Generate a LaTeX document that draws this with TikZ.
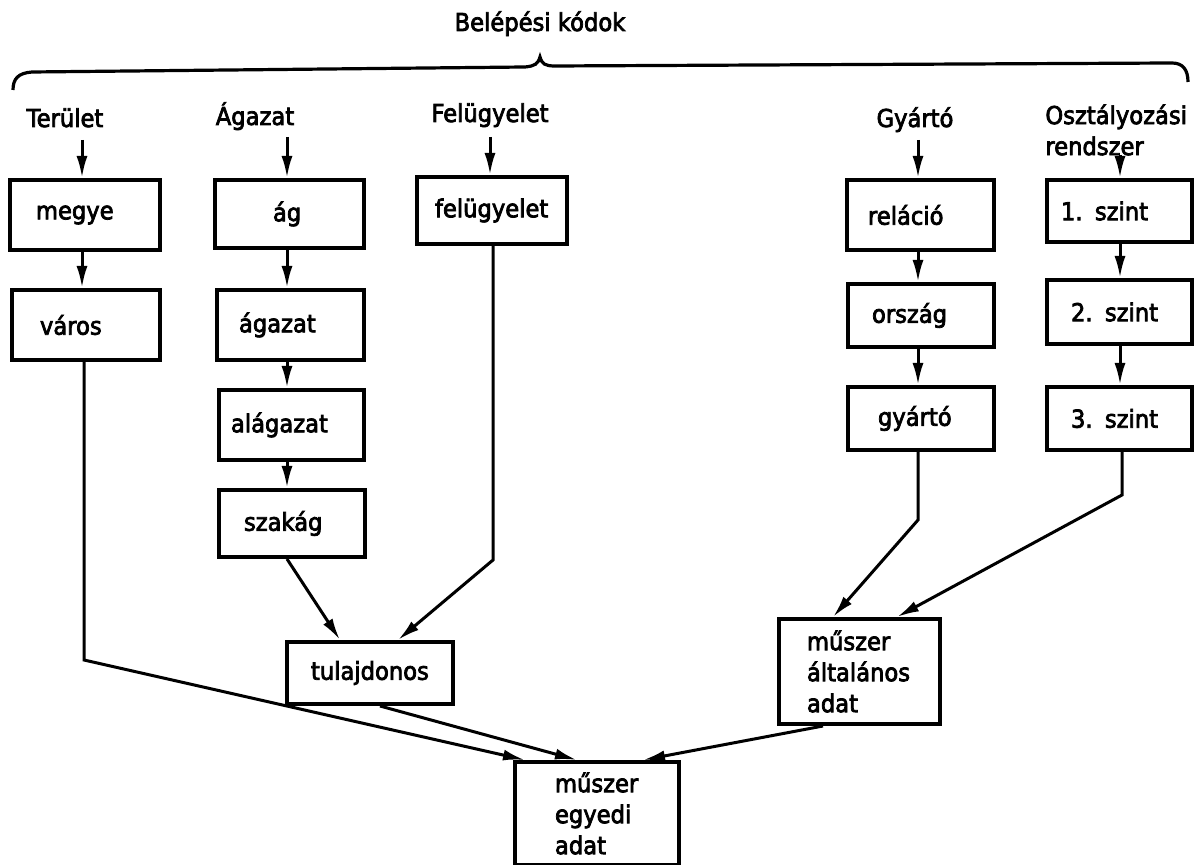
\documentclass[tikz,border=0pt]{standalone}
\usepackage{fontspec}
\setmainfont{DejaVu Sans}[FakeStretch=0.92,FakeBold=3]
\usetikzlibrary{arrows.meta}
\begin{document}
\begin{tikzpicture}[x=0.5pt,y=-0.5pt,
  every node/.style={font=\fontsize{12.3}{15.5}\selectfont},
  bx/.style n args={3}{draw, line width=2pt, anchor=north west, inner ysep=0pt, inner xsep=#2, text width=#1, minimum height=#3, align=left},
  hd/.style={anchor=base, inner sep=0pt},
  conn/.style={line width=1.5pt},
  arr/.style={conn, -{Latex[length=11pt,width=5.5pt]}},
  brace/.style={line width=1.6pt}
]
\useasboundingbox (0,0) rectangle (1200,865);

% header
\node[hd] (title) at (540,31) {Belépési kódok};
\draw[brace] (13,90) .. controls (13,79) and (18,73) .. (32,72) -- (525,67)
  .. controls (535,66) and (538,64) .. (540,57)
  .. controls (542,64) and (545,66) .. (555,66) -- (1172,63)
  .. controls (1183,63) and (1188,70) .. (1188,82);

\node[hd] (terL) at (65,127) {Terület};
\node[hd] (agL) at (255,125) {Ágazat};
\node[hd] (felL) at (490,122) {Felügyelet};
\node[hd] (gyL) at (915,127) {Gyártó};
\node[anchor=north west, inner sep=0pt, align=left] (osztL) at (1045,104) {Osztályozási\\rendszer};

% boxes
\node[bx={49pt}{13pt}{35pt}] (megye) at (8,178) {megye};
\node[bx={46pt}{14pt}{35pt}] (varos) at (10,288) {város};
\node[bx={16.5pt}{29pt}{34pt}] (ag) at (213,178) {ág};
\node[bx={51.5pt}{11pt}{35pt}] (agazat) at (215,288) {ágazat};
\node[bx={60.5pt}{6pt}{35pt}] (alagazat) at (217,388) {alágazat};
\node[bx={48pt}{12.5pt}{33.5pt}] (szakag) at (217,488) {szakág};
\node[bx={57pt}{9pt}{33.5pt}] (felugy) at (415,175) {felügyelet};
\node[bx={52.5pt}{10.5pt}{35pt}] (relacio) at (845,178) {reláció};
\node[bx={49pt}{12pt}{31.5pt}] (orszag) at (846,282) {ország};
\node[bx={43pt}{15pt}{31.5pt}] (gyarto) at (846,385) {gyártó};
\node[bx={58.5pt}{7pt}{31pt}] (szint1) at (1045,178) {1. szint};
\node[bx={48.5pt}{12pt}{32pt}] (szint2) at (1045,278) {2. szint};
\node[bx={48.5pt}{12pt}{31.5pt}] (szint3) at (1045,385) {3. szint};
\node[bx={59pt}{12pt}{31pt}] (tul) at (285,640) {tulajdonos};
\node[bx={52.5pt}{14pt}{52.5pt}] (alt) at (777,617) {műszer\\általános\\adat};
\node[bx={42pt}{20pt}{51.5pt}] (egy) at (513,760) {műszer\\egyedi\\adat};

% vertical chains
\coordinate (t0) at (82,140);
\draw[arr] (t0) -- (t0 |- megye.north);
\draw[arr] (megye.south -| t0) -- (t0 |- varos.north);

\coordinate (a0) at (287,137);
\draw[arr] (a0) -- (a0 |- ag.north);
\draw[arr] (ag.south -| a0) -- (a0 |- agazat.north);
\draw[arr] (agazat.south -| a0) -- (a0 |- alagazat.north);
\draw[arr] (alagazat.south -| a0) -- (a0 |- szakag.north);

\coordinate (f0) at (490,137);
\draw[arr] (f0) -- (f0 |- felugy.north);

\coordinate (g0) at (918,140);
\draw[arr] (g0) -- (g0 |- relacio.north);
\draw[arr] (relacio.south -| g0) -- (g0 |- orszag.north);
\draw[arr] (orszag.south -| g0) -- (g0 |- gyarto.north);

\coordinate (o0) at (1120,155);
\draw[arr] (o0) -- (o0 |- szint1.north);
\draw[arr] (szint1.south -| o0) -- (o0 |- szint2.north);
\draw[arr] (szint2.south -| o0) -- (o0 |- szint3.north);

% lower connectors
\coordinate (fb) at (493,560);
\draw[arr] (felugy.south -| fb) -- (fb) -- ([xshift=56.5pt]tul.north west);
\draw[arr] (szakag.south -| a0) -- ([xshift=27.5pt]tul.north west);

\coordinate (vb) at (84,660);
\draw[arr] (varos.south -| vb) -- (vb) -- ([xshift=6pt]egy.north west);
\draw[arr] ([xshift=47.5pt]tul.south west) -- ([xshift=32pt]egy.north west);
\draw[arr] ([xshift=23pt]alt.south west) -- ([xshift=65pt]egy.north west);

\coordinate (gb) at (918,520);
\draw[arr] (gyarto.south -| gb) -- (gb) -- ([xshift=28pt]alt.north west);
\coordinate (sb) at (1122,495);
\draw[arr] (szint3.south -| sb) -- (sb) -- ([xshift=60pt]alt.north west);
\end{tikzpicture}
\end{document}
